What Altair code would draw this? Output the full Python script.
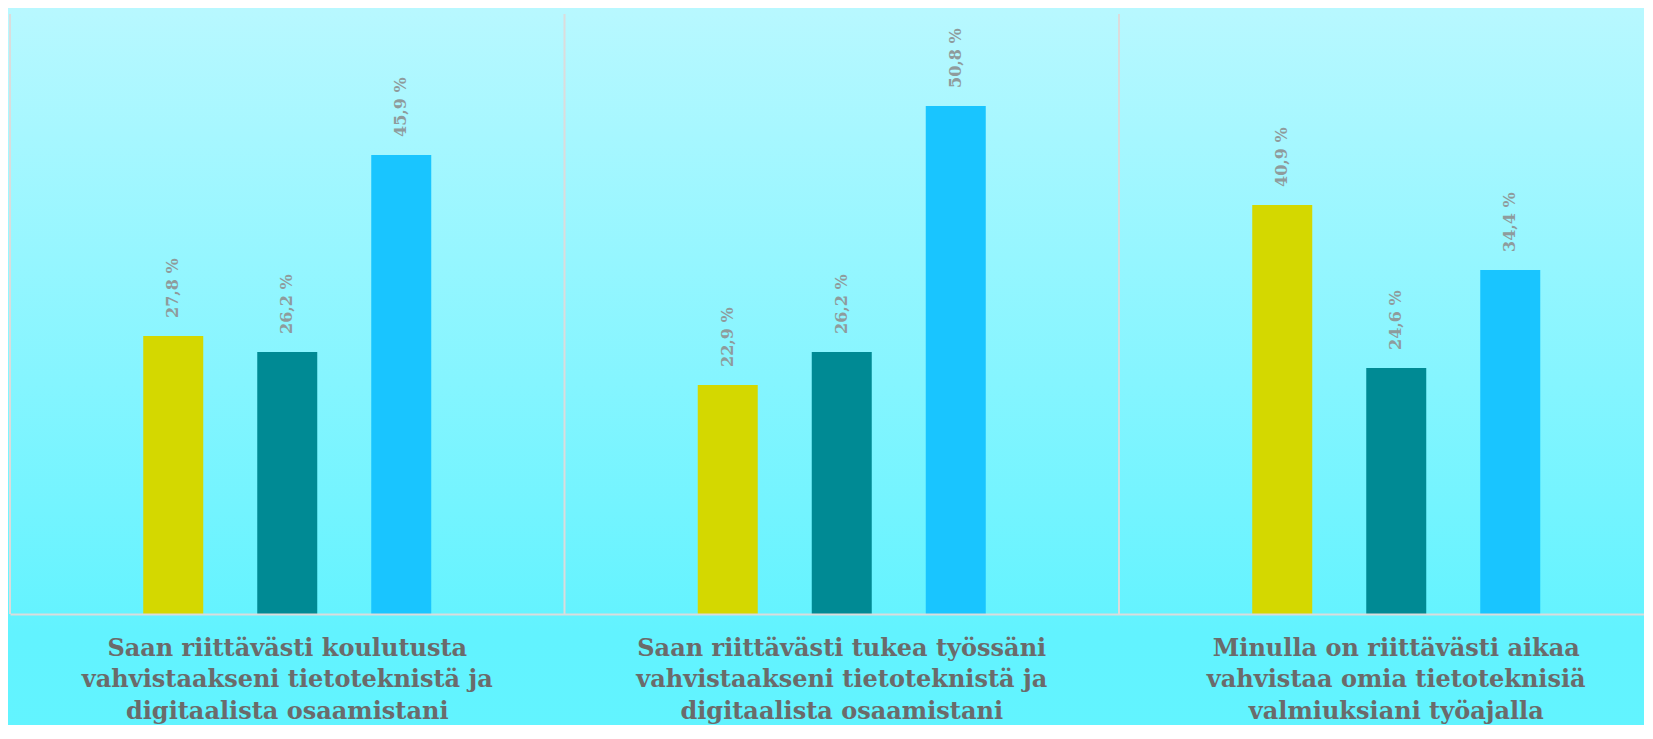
import json
import altair as alt
import pandas as pd

# ---- data -------------------------------------------------------------
categories = [
    "Saan riittävästi koulutusta vahvistaakseni tietoteknistä ja digitaalista osaamistani",
    "Saan riittävästi tukea työssäni vahvistaakseni tietoteknistä ja digitaalista osaamistani",
    "Minulla on riittävästi aikaa vahvistaa omia tietoteknisiä valmiuksiani työajalla",
]
category_lines = [
    ["Saan riittävästi koulutusta", "vahvistaakseni tietoteknistä ja", "digitaalista osaamistani"],
    ["Saan riittävästi tukea työssäni", "vahvistaakseni tietoteknistä ja", "digitaalista osaamistani"],
    ["Minulla on riittävästi aikaa", "vahvistaa omia tietoteknisiä", "valmiuksiani työajalla"],
]
series = ["Sarja 1", "Sarja 2", "Sarja 3"]
series_1 = [27.8, 22.9, 40.9]
series_2 = [26.2, 26.2, 24.6]
series_3 = [45.9, 50.8, 34.4]
colors = ["#d4d800", "#008a94", "#19c5ff"]

rows = []
for name, vals in zip(series, [series_1, series_2, series_3]):
    for cat, v in zip(categories, vals):
        rows.append({"kysymys": cat, "sarja": name, "arvo": v})
df = pd.DataFrame(rows)
cat_df = pd.DataFrame({"kysymys": categories})

# multi-line axis labels
expr = json.dumps(category_lines[-1], ensure_ascii=False)
for cat, lines in reversed(list(zip(categories[:-1], category_lines[:-1]))):
    expr = f"datum.label == {json.dumps(cat, ensure_ascii=False)} ? {json.dumps(lines, ensure_ascii=False)} : ({expr})"

W, H = 1634, 600
x_scale = alt.Scale(domain=categories, range=[0, 1663.5], paddingInner=0, paddingOuter=0)
y_scale = alt.Scale(domain=[0, 60], nice=False, zero=True)

x_axis = alt.Axis(
    labelExpr=expr, labelAngle=0, labelAlign="center", labelBaseline="alphabetic",
    labelFont="DejaVu Serif", labelFontWeight="bold", labelFontSize=24,
    labelColor="#6b6b6b", labelLineHeight=31.5, labelPadding=41, labelLimit=700,
    labelOverlap=False, ticks=False, tickSize=0, grid=False,
    domainColor="#dcdcdc", domainWidth=2, zindex=1, title=None,
)


def x_enc(**kw):
    return alt.X("kysymys:N", sort=categories, scale=x_scale, title=None, axis=x_axis, **kw)


xo_enc = alt.XOffset("sarja:N", sort=series,
                     scale=alt.Scale(paddingInner=0, paddingOuter=0.932))
y_enc = alt.Y("arvo:Q", scale=y_scale, axis=None)

gradient = alt.LinearGradient(
    gradient="linear", x1=0, x2=0, y1=0, y2=1,
    stops=[
        alt.GradientStop(color="#b8f8ff", offset=0),
        alt.GradientStop(color="#62f3ff", offset=0.85),
        alt.GradientStop(color="#62f4ff", offset=1),
    ],
)
bg = alt.Chart(alt.Data(values=[{"a": 1}])).mark_rect(fill=gradient).encode(
    x=alt.value(-2), x2=alt.value(1640), y=alt.value(-6), y2=alt.value(730)
)

rules = alt.Chart(cat_df).mark_rule(color="#dcdcdc", strokeWidth=2).encode(
    x=x_enc(bandPosition=0)
)

bars = alt.Chart(df).mark_bar(width=60).encode(
    x=x_enc(),
    xOffset=xo_enc,
    y=y_enc,
    color=alt.Color("sarja:N", scale=alt.Scale(domain=series, range=colors), legend=None),
)

labels = alt.Chart(df).transform_calculate(
    teksti="replace(format(datum.arvo, '.1f'), '.', ',') + ' %'"
).mark_text(
    angle=270, align="left", baseline="middle", dx=18,
    font="DejaVu Serif", fontWeight="bold", fontSize=16, color="#8f9b9c",
).encode(
    x=x_enc(),
    xOffset=xo_enc,
    y=y_enc,
    text="teksti:N",
)

chart = alt.layer(bg, rules, bars, labels).properties(
    width=W, height=H,
    autosize=alt.AutoSizeParams(type="none"),
    padding={"left": 2, "top": 6, "right": 0, "bottom": 111},
    background="#62f4ff",
).configure_view(stroke=None)

chart.save("out.html", embed_options={"renderer": "svg", "actions": False})
